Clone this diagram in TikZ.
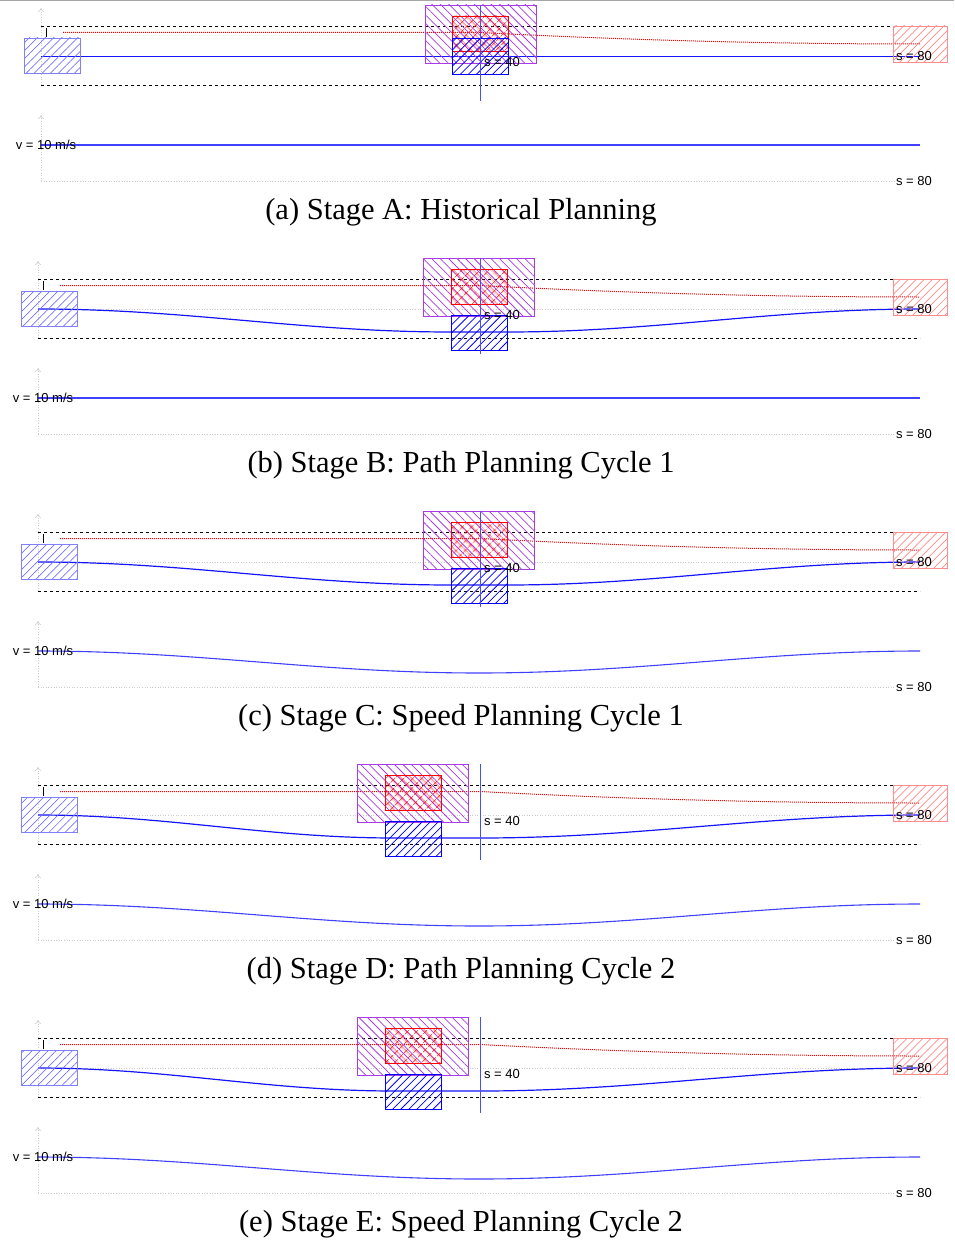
\documentclass[tikz,border=0pt]{standalone}
\usepackage{fontspec}
\setmainfont{Liberation Serif}
\newfontfamily\labfont{Liberation Sans}
\usetikzlibrary{patterns.meta,arrows.meta}
\definecolor{purp}{RGB}{170,60,230}
\definecolor{pathblue}{RGB}{20,20,255}
\definecolor{refred}{RGB}{255,0,0}
\tikzset{
  lab/.style={font=\labfont\fontsize{13}{13}\selectfont, inner sep=0pt},
  captext/.style={font=\fontsize{30.5}{32}\selectfont, inner sep=0pt},
  bound/.style={black, line width=0.7pt, dash pattern=on 3pt off 3pt},
  centerl/.style={gray!40, line width=0.6pt, dotted},
  axisl/.style={gray!40, line width=0.6pt, dotted, -{To[length=4pt,width=6pt]}},
  refl/.style={draw=refred, line width=1pt, dash pattern=on 1pt off 1pt},
  egopath/.style={draw=pathblue, line width=1.2pt},
  speedl/.style={draw=blue!75, line width=1.1pt},
  sline/.style={draw=blue!70, line width=0.9pt},
  egobox/.style={draw=blue!50, line width=0.7pt, pattern={Lines[angle=45,distance=5.7pt,line width=0.7pt]}, pattern color=blue!55},
  goalbox/.style={draw=red!45, line width=0.7pt, pattern={Lines[angle=45,distance=5.7pt,line width=0.7pt]}, pattern color=red!45},
  inflbox/.style={draw=purp, line width=0.9pt, pattern={Lines[angle=-45,distance=6pt,line width=0.75pt]}, pattern color=purp},
  obsbox/.style={draw=red, line width=0.9pt, pattern={Hatch[angle=45,distance=6.5pt,line width=0.6pt]}, pattern color=red},
  predbox/.style={draw=blue, line width=0.9pt, pattern={Lines[angle=45,distance=5.7pt,line width=0.75pt]}, pattern color=blue},
}
% #1 prefix, #2 y offset, #3 x0, #4 obstacle centre, #5 path mode, #6 plateau start, #7 plateau end, #8 speed mode, #9 caption
\newcommand{\drawpanel}[9]{%
\begin{scope}[shift={(0,#2)}]
  % lateral plot
  \draw[centerl] (#3,56) -- (920,56);
  \draw[axisl] (#3,85) -- (#3,8);
  \draw[bound] (#3,26) -- (920,26);
  \draw[bound] (#3,85) -- (920,85);
  \draw[black, line width=0.6pt] ({#3+5.5},28) -- ({#3+5.5},37);
  \draw[refl] ({#3+22},32.5) -- (480,32.5) -- plot[domain=480:920,samples=40] (\x,{32.5+11.5*(1-(1-(\x-480)/440)*(1-(\x-480)/440))});
  \ifnum#5=0
    \draw[egopath] (#3,56.5) -- (920,56.5);
  \else
    \draw[egopath] plot[domain=#3:#6,samples=40] (\x,{56+11.5*(1-cos(180*((\x-#3)/(#6-#3))))}) -- (#7,79)
      -- plot[domain=#7:920,samples=40] (\x,{56+11.5*(1+cos(180*((\x-#7)/(920-#7))))});
  \fi
  \path[egobox] ({#3-17},38) rectangle ({#3+39},73);
  \path[goalbox] (893,26) rectangle (947,62);
  \path[inflbox] ({#4-55.5},5) rectangle ({#4+55.5},63);
  \path[obsbox] ({#4-28},16) rectangle ({#4+28},51);
  \ifnum#5=0
    \path[predbox] ({#4-28},38) rectangle ({#4+28},74);
  \else
    \path[predbox] ({#4-28},62) rectangle ({#4+28},97);
  \fi
  \draw[sline] (480,5) -- (480,101);
  \node[lab] (#1sforty) at (502,62) {s = 40};
  \node[lab] (#1seightyA) at (914,56) {s = 80};
  % speed plot
  \draw[axisl] (#3,181) -- (#3,115);
  \draw[centerl] (#3,181) -- (895,181);
  \ifnum#8=0
    \draw[speedl] (#3,145) -- (920,145);
  \else
    \draw[speedl] plot[domain=#3:920,samples=80] (\x,{145+11*(1-cos(360*((\x-#3)/(920-#3))))});
  \fi
  \node[lab] (#1v) at ({#3+5},145) {v = 10 m/s};
  \node[lab] (#1seightyB) at (914,181) {s = 80};
  \node[captext] (#1cap) at (461,212) {#9};
\end{scope}}

\begin{document}
\begin{tikzpicture}[x=1pt,y=-1pt]
\useasboundingbox (0,0) rectangle (954,1244);
\draw[gray!70, line width=1.5pt] (0,0.75) -- (954,0.75);
\drawpanel{a}{0}{41}{480.5}{0}{0}{0}{0}{(a) Stage A: Historical Planning}
\drawpanel{b}{253}{38}{479}{1}{451}{507}{0}{(b) Stage B: Path Planning Cycle 1}
\drawpanel{c}{506}{38}{479}{1}{451}{507}{1}{(c) Stage C: Speed Planning Cycle 1}
\drawpanel{d}{759}{38}{413}{1}{395}{480}{1}{(d) Stage D: Path Planning Cycle 2}
\drawpanel{e}{1012}{38}{413}{1}{395}{480}{1}{(e) Stage E: Speed Planning Cycle 2}
\end{tikzpicture}
\end{document}
